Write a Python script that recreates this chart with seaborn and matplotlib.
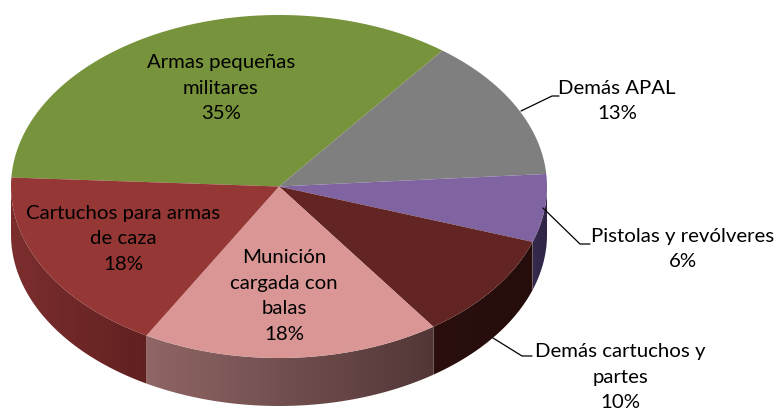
import numpy as np
import matplotlib
matplotlib.use("Agg")
import matplotlib.pyplot as plt
from matplotlib.patches import Polygon
from matplotlib.colors import LinearSegmentedColormap
import seaborn as sns

# Data
categories = ["Armas pequeñas\nmilitares", "Demás APAL", "Pistolas y revólveres",
              "Demás cartuchos y\npartes", "Munición\ncargada con\nbalas",
              "Cartuchos para armas\nde caza"]
values = [34.6, 13.4, 6.4, 10.0, 18.0, 17.6]
top_colors = ["#77933C", "#7F7F7F", "#8064A2", "#632523", "#D99694", "#953735"]
wall_colors = [None, None, ("#352A4D", "#2E2444"), ("#2A0F0D", "#250D0B"),
               ("#906666", "#523636"), ("#7C2E2E", "#612020")]
label_pos = [(221, 88), (617, 101), (683, 249), (620, 377), (284, 296), (123, 239)]

sns.set_theme(style="white")
plt.rcParams["font.family"] = ["Lato", "DejaVu Sans"]

# Pie geometry in pixels
cx, cy = 279, 186.5
rx, ry = 268, 171.5
depth = 48
start = 177


def rim(t):
    t = np.radians(t)
    return cx + rx * np.cos(t), cy - ry * np.sin(t)


fig, ax = plt.subplots(figsize=(7.76, 4.09), dpi=100)
fig.subplots_adjust(0, 0, 1, 1)

angles = start - np.cumsum([0] + values) * 3.6

# Side walls, front half only
for i in range(len(values)):
    if wall_colors[i] is None:
        continue
    a = min(angles[i], 0)
    b = max(angles[i + 1], -180)
    if a <= b:
        continue
    t = np.linspace(a, b, 80)
    x, y = rim(t)
    pts = np.r_[np.c_[x, y], np.c_[x[::-1], y[::-1] + depth]]
    cmap = LinearSegmentedColormap.from_list("wall", wall_colors[i])
    im = ax.imshow(np.linspace(0, 1, 256).reshape(1, -1), cmap=cmap, aspect="auto",
                   extent=(x.min(), x.max(), y.max() + depth, y.min()), zorder=1)
    im.set_clip_path(Polygon(pts, transform=ax.transData))

# Top surface
for i in range(len(values)):
    t = np.linspace(angles[i], angles[i + 1], 120)
    x, y = rim(t)
    ax.fill(np.r_[cx, x], np.r_[cy, y], color=top_colors[i], lw=0, zorder=2)

# Leader lines
ax.plot([521, 552, 559], [111, 96, 96], color="black", lw=0.9, zorder=3)
ax.plot([543, 580, 590], [208, 244, 244], color="black", lw=0.9, zorder=3)
ax.plot([493, 522, 532], [338, 356, 356], color="black", lw=0.9, zorder=3)

# Labels
for name, v, (lx, ly) in zip(categories, values, label_pos):
    ax.text(lx, ly, f"{name}\n{v:.0f}%", ha="center", va="center", fontsize=14.7,
            color="black", linespacing=1.62, zorder=4)

ax.set_xlim(0, 776)
ax.set_ylim(409, 0)
ax.axis("off")
fig.savefig("out.png", dpi=100)
